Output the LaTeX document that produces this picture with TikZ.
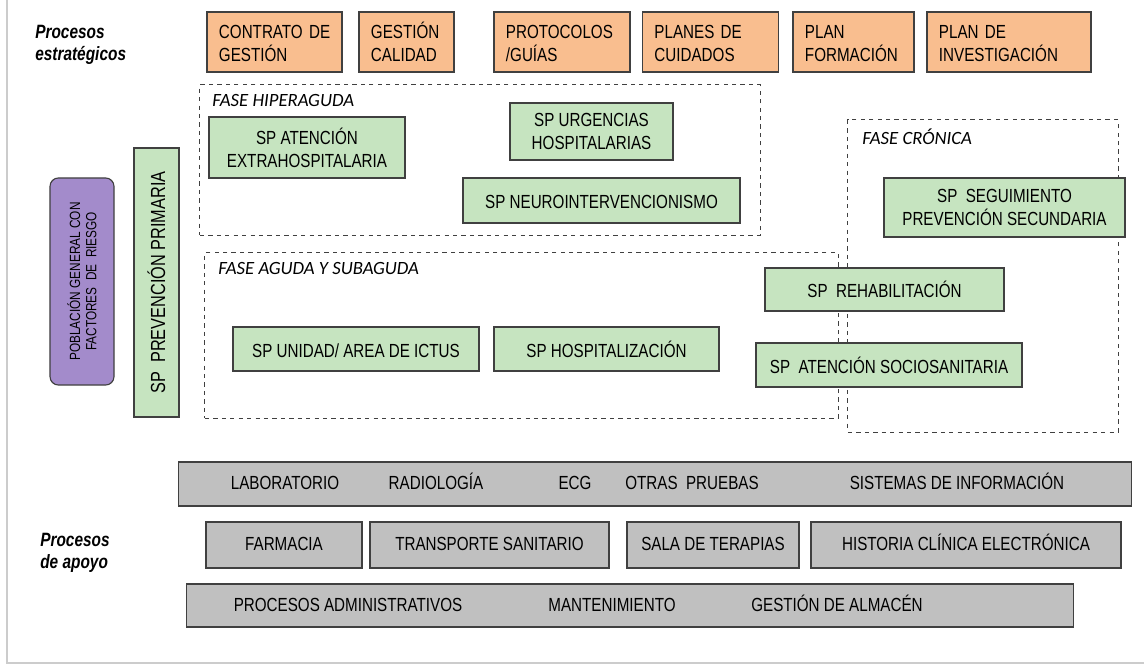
\documentclass[tikz,border=0pt]{standalone}
\usepackage{fontspec}
\setmainfont{Liberation Sans}[FakeStretch=0.8]
\newfontfamily\fasefont{Carlito}
\usepackage{xcolor}
\usetikzlibrary{positioning}

\definecolor{estrat}{RGB}{249,190,143}
\definecolor{spgreen}{RGB}{198,228,192}
\definecolor{poblac}{RGB}{163,139,203}
\definecolor{apoyo}{RGB}{192,192,192}

\begin{document}
\begin{tikzpicture}[x=0.025cm, y=-0.025cm,
  box/.style={draw=black!75, line width=0.8pt, inner sep=0pt,
              font=\fontsize{13.5}{16.3}\selectfont},
  estr/.style={box, fill=estrat, align=left, minimum height=1.5cm, inner xsep=0.3cm,
               execute at begin node={\vphantom{Ó}}},
  sp/.style={box, fill=spgreen, align=center, execute at begin node={\vphantom{Ó}}},
  gris/.style={box, fill=apoyo, text height=1.8ex, text depth=0.25ex},
  fase/.style={draw=black!75, dashed, line width=0.7pt, inner sep=0pt},
  faselbl/.style={anchor=north west, font=\fasefont\itshape\fontsize{13.3}{15}\selectfont, inner sep=0pt},
  grupo/.style={anchor=north west, align=left, font=\bfseries\itshape\fontsize{13.7}{15.5}\selectfont, inner sep=0pt},
  txt/.style={font=\fontsize{13.5}{16.3}\selectfont, inner sep=0pt, text height=1.8ex, text depth=0.25ex}
]
  \useasboundingbox (0,0) rectangle (1144,668);
  % frame
  \draw[black!20, line width=0.8pt] (7,0) -- (7,663) -- (1144,663);

  % Procesos estrategicos
  \node[grupo] (estrlbl) at (35,25) {Procesos\\estratégicos};
  \node[estr, text width=2.775cm] (contrato) at (274.5,42) {CONTRATO~DE\\GESTIÓN};
  \node[estr, text width=1.775cm] (calidad)  at (406.5,42) {GESTIÓN\\CALIDAD};
  \node[estr, text width=2.8cm]   (protoc)   at (562,42)   {PROTOCOLOS\\/GUÍAS};
  \node[estr, text width=2.8cm]   (cuidados) at (710.5,42) {PLANES~DE\\CUIDADOS};
  \node[estr, text width=2.425cm] (formac)   at (853.5,42) {PLAN\\FORMACIÓN};
  \node[estr, text width=3.5cm]   (investig) at (1009,42)  {PLAN~DE\\INVESTIGACIÓN};

  % Fases
  \node[fase, minimum width=14cm, minimum height=3.75cm] (hiper) at (480,160) {};
  \node[faselbl] (hiperlbl) at (212,94) {FASE HIPERAGUDA};
  \node[fase, minimum width=15.825cm, minimum height=4.125cm] (aguda) at (521.5,335.5) {};
  \node[faselbl] (agudalbl) at (218,262) {FASE AGUDA Y SUBAGUDA};
  \node[fase, minimum width=6.75cm, minimum height=7.8cm] (cronica) at (983,276) {};
  \node[faselbl] (cronicalbl) at (862,129) {FASE CRÓNICA};

  % Poblacion y prevencion primaria
  \node[box, fill=poblac, rounded corners=6pt, rotate=90, align=center,
        minimum width=5.175cm, minimum height=1.6cm,
        font=\fontsize{10.5}{11.5}\selectfont] (poblacion) at (82,281.5)
        {POBLACIÓN GENERAL CON\\FACTORES\ \ DE\ \ RIESGO};
  \node[sp, rotate=90, minimum width=6.725cm, minimum height=1.125cm,
        font=\fontsize{14.5}{16}\selectfont] (primaria) at (156.5,282.5)
        {SP\ \ PREVENCIÓN PRIMARIA};

  % Subprocesos hiperaguda
  \node[sp, minimum width=4.9cm, minimum height=1.525cm] (extrahosp) at (307,147.5)
        {SP ATENCIÓN\\EXTRAHOSPITALARIA};
  \node[sp, minimum width=4.075cm, minimum height=1.425cm] (urgencias) at (591.5,131.5)
        {SP URGENCIAS\\HOSPITALARIAS};
  \node[sp, minimum width=6.925cm, minimum height=1.125cm] (neuro) at (601.5,200.5)
        {SP NEUROINTERVENCIONISMO};

  % Subprocesos aguda y subaguda
  \node[sp, minimum width=6.15cm, minimum height=1.1cm] (ictus) at (356,349)
        {SP UNIDAD/ AREA DE ICTUS};
  \node[sp, minimum width=5.625cm, minimum height=1.1cm] (hospital) at (606.5,349)
        {SP HOSPITALIZACIÓN};

  % Subprocesos cronica
  \node[sp, minimum width=6.025cm, minimum height=1.475cm] (seguim) at (1004.5,207.5)
        {SP\ \ SEGUIMIENTO\\PREVENCIÓN SECUNDARIA};
  \node[sp, minimum width=5.975cm, minimum height=1.075cm] (rehab) at (884.5,289.5)
        {SP\ \ REHABILITACIÓN};
  \node[sp, minimum width=6.65cm, minimum height=1.1cm] (sociosan) at (889,365)
        {SP\ \ ATENCIÓN SOCIOSANITARIA};

  % Procesos de apoyo
  \node[grupo] (apoyolbl) at (40,533) {Procesos\\de apoyo};
  \node[gris, minimum width=23.8cm, minimum height=1.1cm] (pruebas) at (655,484) {};
  \node[txt] (lab)  at (285,484) {LABORATORIO};
  \node[txt] (rad)  at (436,484) {RADIOLOGÍA};
  \node[txt] (ecg)  at (575,484) {ECG};
  \node[txt] (otras) at (692,484) {OTRAS\ \ PRUEBAS};
  \node[txt] (sistemas) at (957,484) {SISTEMAS DE INFORMACIÓN};

  \node[gris, minimum width=3.9cm, minimum height=1.15cm]   (farmacia) at (284,545) {FARMACIA};
  \node[gris, minimum width=5.975cm, minimum height=1.15cm] (transp)   at (489.5,545) {TRANSPORTE SANITARIO};
  \node[gris, minimum width=4.3cm, minimum height=1.15cm]   (terapias) at (713,545) {SALA DE TERAPIAS};
  \node[gris, minimum width=7.75cm, minimum height=1.15cm]  (historia) at (966,545) {HISTORIA CLÍNICA ELECTRÓNICA};

  \node[gris, minimum width=22.15cm, minimum height=1.075cm] (admin) at (630,605.5) {};
  \node[txt] (procadm) at (348,605.5) {PROCESOS ADMINISTRATIVOS};
  \node[txt] (manten)  at (612,605.5) {MANTENIMIENTO};
  \node[txt] (almacen) at (837,605.5) {GESTIÓN DE ALMACÉN};
\end{tikzpicture}
\end{document}
